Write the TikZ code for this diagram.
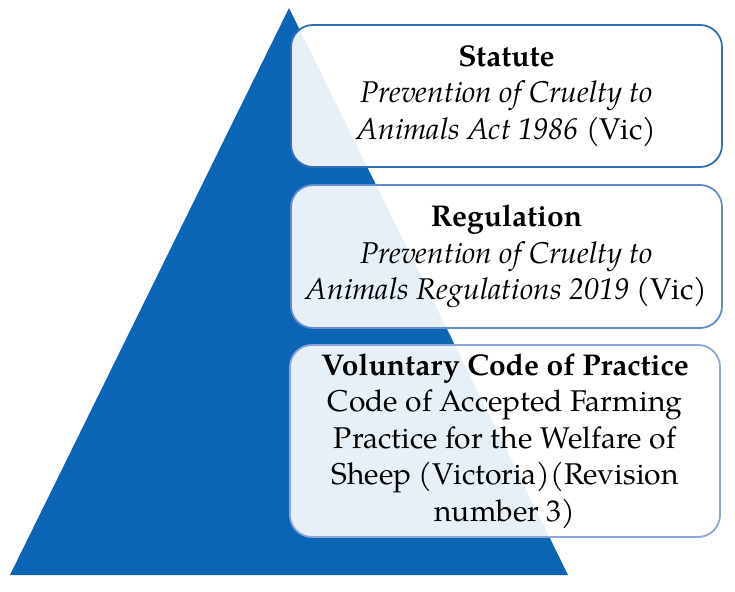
\documentclass[tikz,border=0pt]{standalone}
\usepackage{fontspec}
\setmainfont{texgyrepagella}[Extension=.otf, UprightFont=*-regular, BoldFont=*-bold, ItalicFont=*-italic, BoldItalicFont=*-bolditalic]
\definecolor{pyrblue}{RGB}{12,100,180}
\definecolor{bord1}{RGB}{50,110,185}
\definecolor{bord2}{RGB}{100,140,205}
\definecolor{bord3}{RGB}{140,165,215}
\tikzset{
  levelbox/.style={draw, line width=1.8pt, rounded corners=22pt, fill=white, fill opacity=0.9, text opacity=1,
    align=center, inner sep=0pt, font=\fontsize{30}{36.5}\selectfont, text=black},
}
\begin{document}
\begin{tikzpicture}[x=1pt,y=1pt]
\useasboundingbox (0,0) rectangle (735,591);
\fill[pyrblue] (289,583) -- (10,16) -- (568,16) -- cycle;
\node[levelbox, draw=bord1, minimum width=431pt, minimum height=142pt] (statute) at (506.5,495)
  {\textbf{Statute}\\\textit{Prevention of Cruelty to}\\\textit{Animals Act 1986} (Vic)};
\node[levelbox, draw=bord2, minimum width=431pt, minimum height=143pt] (regulation) at (506.5,334.5)
  {\textbf{Regulation}\\\textit{Prevention of Cruelty to}\\\textit{Animals Regulations 2019} (Vic)};
\node[levelbox, draw=bord3, minimum width=430pt, minimum height=192pt] (code) at (505,150)
  {\textbf{Voluntary Code of Practice}\\Code of Accepted Farming\\Practice for the Welfare of\\Sheep (Victoria)(Revision\\number 3)};
\end{tikzpicture}
\end{document}
